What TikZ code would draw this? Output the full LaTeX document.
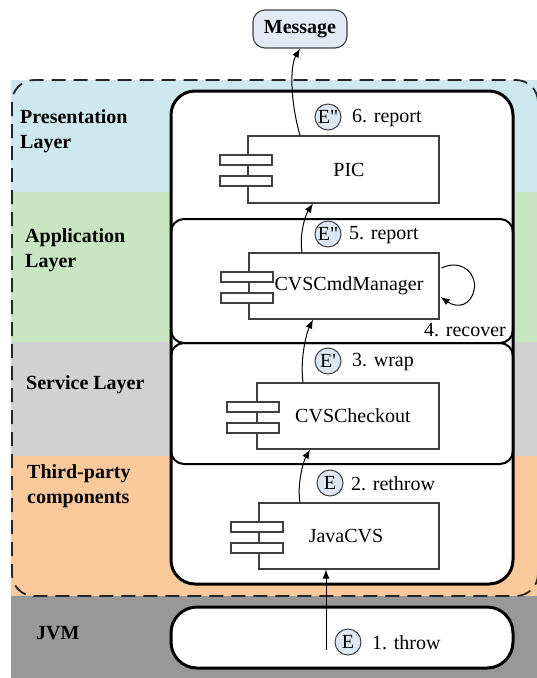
\documentclass[tikz,border=0pt]{standalone}
\usepackage{fontspec}
\setmainfont{Liberation Serif}
\newfontfamily\rawserif{Liberation Serif}
\usetikzlibrary{arrows.meta,calc}
\definecolor{bandblue}{HTML}{CDE9EF}
\definecolor{bandgreen}{HTML}{C8E5C1}
\definecolor{bandgray}{HTML}{D1D1D1}
\definecolor{bandorange}{HTML}{F9C99B}
\definecolor{banddark}{HTML}{989898}
\definecolor{circfill}{HTML}{DDE7F3}
\definecolor{msgfill}{HTML}{E3EAF5}
\definecolor{boxline}{HTML}{404040}
\begin{document}
\begin{tikzpicture}[x=1pt,y=-1pt,
  font=\rawserif\fontsize{20}{25}\selectfont,
  dashedframe/.style={draw=black!85, line width=1.8pt, dash pattern=on 14pt off 8pt, rounded corners=22pt},
  thickframe/.style={draw=black, line width=3pt, fill=white, rounded corners=24pt},
  layerframe/.style={draw=black, line width=2pt, rounded corners=13pt},
  jvmframe/.style={draw=black, line width=3pt, fill=white, rounded corners=26pt},
  compbox/.style={draw=boxline, line width=1.1pt, fill=white, inner sep=0pt},
  iconbox/.style={draw=boxline, line width=1.1pt, fill=white, minimum width=52pt, minimum height=10pt, inner sep=0pt},
  msgbox/.style={draw=boxline, line width=1.1pt, fill=msgfill, rounded corners=12pt, minimum width=94pt, minimum height=38pt, inner sep=0pt},
  ecircle/.style={circle, draw=boxline, line width=1pt, fill=circfill, minimum size=26pt, inner sep=0pt},
  lbl/.style={inner sep=0pt, anchor=west},
  layerlbl/.style={inner sep=0pt, anchor=west, align=left, font=\rawserif\fontsize{20}{25}\selectfont\bfseries},
  arr/.style={draw=black, line width=1pt, -{Latex[length=9pt,width=7pt]}}
]
\useasboundingbox (0,0) rectangle (537,678);
% layer bands
\fill[bandblue] (11,80) rectangle (537,192);
\fill[bandgreen] (11,192) rectangle (537,342);
\fill[bandgray] (11,342) rectangle (537,456);
\fill[bandorange] (11,456) rectangle (537,596);
\fill[banddark] (11,596) rectangle (537,678);
% dashed frame
\draw[dashedframe] (12,80) rectangle (538,596);
% containers
\draw[thickframe] (171,91) rectangle (513,584);
\draw[layerframe] (171,219) rectangle (513,343);
\draw[layerframe] (171,343) rectangle (513,464);
\draw[jvmframe] (171,607) rectangle (513,668);
% layer labels
\node[layerlbl] (lpres) at (20,131) {Presentation\\Layer};
\node[layerlbl] (lapp) at (25,250) {Application\\Layer};
\node[layerlbl] (lserv) at (26,385) {Service Layer};
\node[layerlbl] (lthird) at (27,486) {Third-party\\components};
\node[layerlbl] (ljvm) at (36,633) {JVM};
% component boxes
\node[compbox, minimum width=191pt, minimum height=67pt] (pic) at (343.5,169.5) {\hspace{11pt}PIC};
\node[compbox, minimum width=190pt, minimum height=66pt] (cmd) at (344,286) {\hspace{10pt}CVSCmdManager};
\node[compbox, minimum width=182pt, minimum height=66pt] (chk) at (348,416) {\hspace{10pt}CVSCheckout};
\node[compbox, minimum width=180pt, minimum height=66pt] (jcvs) at (349,536) {\hspace{-6pt}JavaCVS};
% component icons
\node[iconbox] (picia) at (246,160) {};
\node[iconbox] (picib) at (246,181) {};
\node[iconbox] (cmdia) at (247,277) {};
\node[iconbox] (cmdib) at (247,298) {};
\node[iconbox] (chkia) at (253,407) {};
\node[iconbox] (chkib) at (253,428) {};
\node[iconbox] (jcvsia) at (257,527) {};
\node[iconbox] (jcvsib) at (257,548) {};
% message
\node[msgbox] (msg) at (300,29) {\textbf{Message}};
% exception circles and labels
\node[ecircle] (e6) at (328,117) {E"};
\node[lbl] (l6) at (352,118) {6. report};
\node[ecircle] (e5) at (328,234) {E"};
\node[lbl] (l5) at (349,235) {5. report};
\node[lbl, anchor=east] (l4) at (506,330) {4. recover};
\node[ecircle] (e3) at (328,361) {E'};
\node[lbl] (l3) at (352,362) {3. wrap};
\node[ecircle] (e2) at (330,483) {E};
\node[lbl] (l2) at (351,484) {2. rethrow};
\node[ecircle] (e1) at (348,642) {E};
\node[lbl] (l1) at (372,643) {1. throw};
% connectors
\coordinate (throwstart) at (326,650);
\draw[arr] (throwstart) -- (throwstart |- jcvs.south);
\draw[arr] ($(jcvs.north)+(-49,0)$) .. controls (297,485) and (303,462) .. ($(chk.south)+(-38,0)$);
\draw[arr] ($(chk.north)+(-45,0)$) .. controls (300,360) and (306,334) .. ($(cmd.south)+(-31,0)$);
\draw[arr] ($(cmd.north)+(-42,0)$) .. controls (299,233) and (306,214) .. ($(pic.south)+(-30.5,0)$);
\draw[arr] ($(pic.north)+(-43.5,0)$) .. controls (290,100) and (290,66) .. (msg.south);
\draw[arr] ($(cmd.east)+(2,-18)$) .. controls (462,258) and (478,275) .. (474,290) .. controls (471,305) and (458,309) .. ($(cmd.east)+(1,11)$);
\end{tikzpicture}
\end{document}
